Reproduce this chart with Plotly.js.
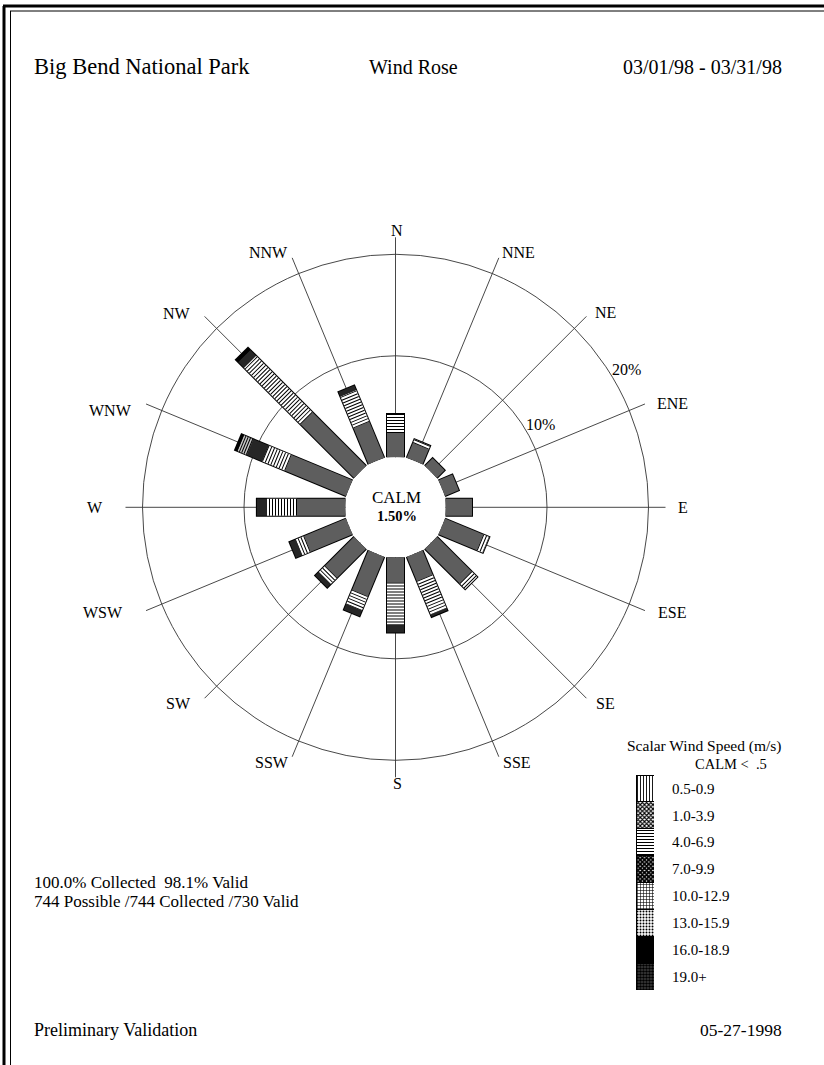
<!DOCTYPE html>
<html><head><meta charset="utf-8">
<script src="https://cdn.plot.ly/plotly-3.0.1.min.js"></script>
<style>html,body{margin:0;padding:0;background:#fff;overflow:hidden}#chart{width:824px;height:1065px}</style>
</head><body><div id="chart"></div>
<script>
// ---------------- data ----------------
const directions = ['N','NNE','NE','ENE','E','ESE','SE','SSE','S','SSW','SW','WSW','W','WNW','NW','NNW'];
const speedBins = ['0.5-0.9','1.0-3.9','4.0-6.9','7.0-9.9','10.0-12.9','13.0-15.9','16.0-18.9','19.0+'];
//                     N     NNE   NE    ENE   E     ESE   SE    SSE   S     SSW   SW    WSW   W     WNW   NW    NNW
const freq_05_09   = [0,    0,    0,    0,    0,    0,    0,    0,    0,    0,    0,    0,    0,    0,    0,    0];
const freq_10_39   = [2.39, 1.58, 1.08, 1.48, 2.61, 4.09, 4.83, 2.58, 2.48, 4.20, 4.04, 4.47, 4.78, 6.50, 7.45, 3.84];
const freq_40_69   = [1.87, 0.39, 0,    0,    0,    0.64, 0.79, 3.61, 4.14, 1.56, 0.89, 0.90, 2.96, 2.46, 7.90, 3.39];
const freq_70_99   = [0,    0,    0,    0,    0,    0,    0,    0.22, 0.79, 0.58, 0.49, 0.66, 0.99, 1.63, 0.81, 0.49];
const freq_100_129 = [0,    0,    0,    0,    0,    0,    0,    0,    0,    0,    0,    0,    0,    0.99, 0,    0];
const freq_130_159 = [0,    0,    0,    0,    0,    0,    0,    0,    0,    0,    0,    0,    0,    0,    0,    0];
const freq_160_189 = [0,    0,    0,    0,    0,    0,    0,    0,    0,    0,    0,    0,    0,    0.25, 0.30, 0];
const freq_190p    = [0,    0,    0,    0,    0,    0,    0,    0,    0,    0,    0,    0,    0,    0,    0,    0];
const radialTicks = [10, 20];
const radialTickText = ['10%', '20%'];
const calmLabel = 'CALM';
const calmValue = '1.50%';
const headerLeft = 'Big Bend National Park';
const headerCenter = 'Wind Rose';
const headerRight = '03/01/98 - 03/31/98';
const statsLine1 = '100.0% Collected  98.1% Valid';
const statsLine2 = '744 Possible /744 Collected /730 Valid';
const footerLeft = 'Preliminary Validation';
const footerRight = '05-27-1998';
const legendTitle = 'Scalar Wind Speed (m/s)';
const legendCalm = 'CALM <  .5';

const series = [freq_05_09, freq_10_39, freq_40_69, freq_70_99, freq_100_129, freq_130_159, freq_160_189, freq_190p];

// ---------------- styling / layout positions ----------------
const W = 824, H = 1065;
const px = x => x / W, py = y => 1 - y / H;
const FONT = 'Liberation Serif, Times New Roman, serif';
const CX = 395.5, CY = 507.3, R = 270, HOLE = 50;
const PX_PER_PCT = 10.15;
const rMax = (R - HOLE) / PX_PER_PCT;
const BAR_W = 17;
const onePx = 1 / PX_PER_PCT;
// page positions (pixel centres) of the compass-point labels, same order as directions
const dirLabelPos = [[397,230],[518,252],[605,312],[672,403],[683,508],[672,612],[605,703],[517,762],
                     [397,783],[272,762],[178,703],[103,612],[95,508],[110,410],[177,313],[268,252]];

const binStyle = [
  {color: '#ffffff'},
  {color: '#5e5e5e'},
  {color: '#ffffff', stripe: '#000000', dash: '1px,2px'},
  {color: '#262626'},
  {color: '#c4c4c4', stripe: '#000000', dash: '1px,1.5px'},
  {color: '#d2d2d2'},
  {color: '#000000'},
  {color: '#3c3c3c'}
];
const legendPattern = [
  {shape: '|', size: 3, solidity: 0.3, fgcolor: '#000', bgcolor: '#fff'},
  {shape: 'x', size: 3, solidity: 0.6, fgcolor: '#000', bgcolor: '#fff'},
  {shape: '-', size: 3, solidity: 0.35, fgcolor: '#000', bgcolor: '#fff'},
  {shape: 'x', size: 3, solidity: 0.85, fgcolor: '#000', bgcolor: '#fff'},
  {shape: '+', size: 3, solidity: 0.35, fgcolor: '#000', bgcolor: '#fff'},
  {shape: '.', size: 3, solidity: 0.35, fgcolor: '#000', bgcolor: '#fff'},
  {shape: '', fgcolor: '#000', bgcolor: '#000'},
  {shape: '.', size: 3, solidity: 0.6, fgcolor: '#000', bgcolor: '#444'}
];

// ---------------- rose traces (thick radial lines = rectangular bars) ----------------
const traces = [];
const segs = speedBins.map(() => ({r: [], theta: []}));
const outline = {r: [], theta: []};
directions.forEach((d, i) => {
  let cum = 0;
  series.forEach((s, b) => {
    const v = s[i];
    if (v > 0) {
      segs[b].r.push(cum, cum + v, null);
      segs[b].theta.push(d, d, null);
      cum += v;
    }
  });
  outline.r.push(0, cum + onePx, null);
  outline.theta.push(d, d, null);
});
traces.push({type: 'scatterpolar', mode: 'lines', r: outline.r, theta: outline.theta,
  line: {color: '#000', width: BAR_W + 2}, hoverinfo: 'skip', showlegend: false, connectgaps: false});
segs.forEach((sg, b) => {
  const st = binStyle[b];
  traces.push({type: 'scatterpolar', mode: 'lines', r: sg.r, theta: sg.theta,
    line: {color: st.color, width: BAR_W}, name: speedBins[b], showlegend: false, connectgaps: false});
  if (st.stripe) {
    traces.push({type: 'scatterpolar', mode: 'lines', r: sg.r, theta: sg.theta,
      line: {color: st.stripe, width: BAR_W, dash: st.dash}, hoverinfo: 'skip', showlegend: false, connectgaps: false});
  }
});

// ---------------- legend column (cartesian stacked bar) ----------------
speedBins.forEach((b, k) => {
  const p = legendPattern[k];
  traces.push({type: 'bar', x: [0], y: [1], xaxis: 'x', yaxis: 'y', name: b, showlegend: false,
    width: 1,
    marker: {color: p.shape ? p.bgcolor : p.fgcolor, line: {color: '#000', width: 1},
      pattern: p.shape ? {shape: p.shape, size: p.size, solidity: p.solidity, fgcolor: p.fgcolor, bgcolor: p.bgcolor, fillmode: 'replace'} : undefined}
  });
});

const ann = (text, x, y, size, xanchor, extra) => Object.assign({
  text, x: px(x), y: py(y), xref: 'paper', yref: 'paper', showarrow: false,
  xanchor: xanchor || 'center', yanchor: 'middle', borderpad: 0,
  font: {family: FONT, size, color: '#000'}
}, extra || {});

const annotations = [
  ann(headerLeft, 33, 67, 22.5, 'left'),
  ann(headerCenter, 413, 67, 20, 'center'),
  ann(headerRight, 783, 67, 20, 'right'),
  ann(calmLabel, CX + 1, 497, 17, 'center'),
  ann('<b>' + calmValue + '</b>', CX + 1, 516, 14.5, 'center'),
  ann(radialTickText[0], 540, 424, 16, 'center'),
  ann(radialTickText[1], 626, 369, 16, 'center'),
  ann(statsLine1, 33, 882, 17, 'left'),
  ann(statsLine2, 33, 901, 17, 'left'),
  ann(footerLeft, 33, 1030, 18, 'left'),
  ann(footerRight, 783, 1030, 17.5, 'right'),
  ann(legendTitle, 783, 746, 15.5, 'right'),
  ann(legendCalm, 768, 764, 14.5, 'right')
];
directions.forEach((d, i) => annotations.push(ann(d, dirLabelPos[i][0], dirLabelPos[i][1], 16, 'center')));

const lineShape = (x0, y0, x1, y1, w) => ({type: 'line', xref: 'paper', yref: 'paper',
  x0: px(x0), y0: py(y0), x1: px(x1), y1: py(y1), line: {color: '#000', width: w}});
const shapes = [
  lineShape(4, 6, 4, H, 3),
  lineShape(3, 6, W, 6, 3),
  lineShape(10.5, 11, 10.5, H, 1),
  lineShape(10, 11, W, 11, 1)
];

const layout = {
  width: W, height: H, margin: {l: 0, r: 0, t: 0, b: 0},
  paper_bgcolor: '#fff', plot_bgcolor: '#fff', showlegend: false,
  barmode: 'stack', bargap: 0,
  font: {family: FONT, color: '#000'},
  polar: {
    domain: {x: [px(CX - R), px(CX + R)], y: [py(CY + R), py(CY - R)]},
    hole: HOLE / R,
    bgcolor: 'rgba(0,0,0,0)',
    angularaxis: {type: 'category', categoryarray: directions, rotation: 90, direction: 'clockwise',
      showline: false, ticks: '', showticklabels: false, showgrid: true, gridcolor: '#333', gridwidth: 0.9,
      layer: 'below traces'},
    radialaxis: {range: [0, rMax], tickvals: radialTicks, showticklabels: false, showline: false,
      ticks: '', showgrid: true, gridcolor: '#333', gridwidth: 0.9, layer: 'below traces'}
  },
  xaxis: {domain: [px(636), px(654)], range: [-0.5, 0.5], anchor: 'y', showgrid: false, zeroline: false,
    showline: false, showticklabels: false, fixedrange: true},
  yaxis: {domain: [py(990), py(775)], range: [speedBins.length, 0], anchor: 'x', side: 'right',
    tickvals: speedBins.map((_, k) => k + 0.5), ticktext: speedBins, ticks: '', ticklabelstandoff: 17,
    showgrid: false, zeroline: false, showline: false, tickfont: {family: FONT, size: 15, color: '#000'}, fixedrange: true},
  annotations, shapes
};

Plotly.newPlot('chart', traces, layout, {displayModeBar: false, staticPlot: true});
</script></body></html>
